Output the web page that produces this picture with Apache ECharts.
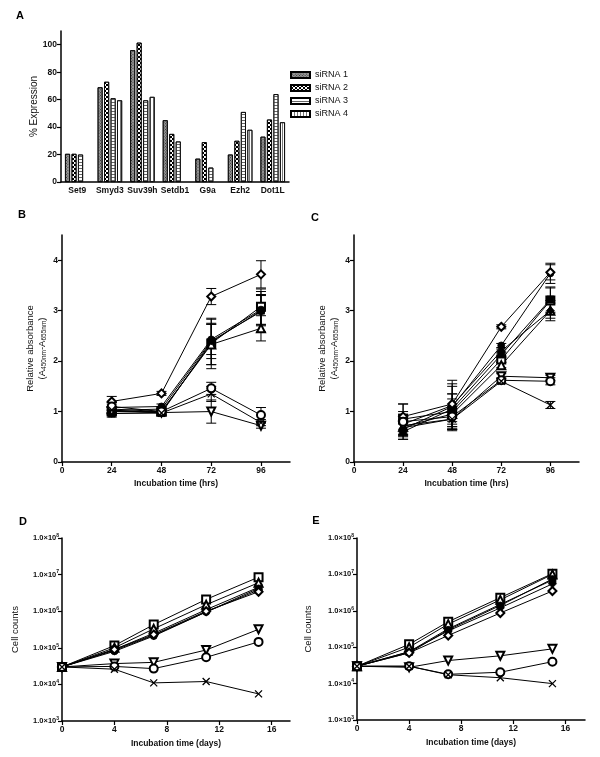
<!DOCTYPE html>
<html>
<head>
<meta charset="utf-8">
<script src="https://cdn.jsdelivr.net/npm/echarts@6/dist/echarts.min.js"></script>
<style>
  html, body { margin: 0; padding: 0; background: #fff; }
  #chart { width: 600px; height: 757px; }
</style>
</head>
<body>
<div id="chart"></div>
<script>
// panel A - % expression after knockdown
const genes = ['Set9', 'Smyd3', 'Suv39h', 'Setdb1', 'G9a', 'Ezh2', 'Dot1L'];
const sirna1 = [20.5, 69, 96, 45, 17, 20, 33];
const sirna2 = [20.5, 73, 101.5, 35, 29, 30, 45.5];
const sirna3 = [20, 61, 59.5, 29.5, 10.5, 51, 64];
const sirna4 = [null, 59.5, 62, null, null, 38, 43.5];
const pctTicks = [0, 20, 40, 60, 80, 100];

// panels B/C - absorbance
const hrs = [24, 48, 72, 96];
const hrsTicks = [0, 24, 48, 72, 96];
const absTicks = [0, 1, 2, 3, 4];

const bSq = [1.0, 1.0, 2.35, 3.08],      bSqErr = [0.08, 0.05, 0.5, 0.35];
const bSqF = [0.96, 0.97, 2.38, 3.0],    bSqFErr = [0.07, 0.05, 0.45, 0.3];
const bTri = [1.05, 1.0, 2.33, 2.65],    bTriErr = [0.1, 0.05, 0.4, 0.25];
const bDotF = [1.08, 1.1, 2.43, 3.02],   bDotFErr = [0.1, 0.05, 0.3, 0.3];
const bDiaF = [1.02, 1.05, 2.4, 2.98],   bDiaFErr = [0.08, 0.05, 0.35, 0.4];
const bDia = [1.2, 1.36, 3.28, 3.72],    bDiaErr = [0.1, 0.04, 0.16, 0.27];
const bTriDn = [1.0, 0.98, 1.0, 0.72],   bTriDnErr = [0.05, 0.04, 0.23, 0.05];
const bCirc = [1.1, 1.0, 1.46, 0.93],    bCircErr = [0.08, 0.04, 0.12, 0.15];
const bCross = [1.03, 0.97, 1.35, 0.78], bCrossErr = [0.05, 0.04, 0.15, 0.06];

const cSq = [0.85, 1.0, 2.03, 3.2],      cSqErr = [0.3, 0.35, 0.05, 0.25];
const cSqF = [0.6, 1.05, 2.13, 3.22],    cSqFErr = [0.15, 0.3, 0.05, 0.25];
const cTri = [0.7, 0.95, 1.92, 3.0],     cTriErr = [0.2, 0.3, 0.05, 0.15];
const cDotF = [0.65, 1.1, 2.31, 3.74],   cDotFErr = [0.2, 0.45, 0.04, 0.2];
const cDiaF = [0.75, 1.12, 2.2, 3.0],    cDiaFErr = [0.2, 0.5, 0.04, 0.2];
const cDia = [0.9, 1.15, 2.68, 3.76],    cDiaErr = [0.25, 0.35, 0.04, 0.15];
const cTriDn = [0.72, 0.85, 1.7, 1.67],  cTriDnErr = [0.2, 0.2, 0.05, 0.05];
const cCirc = [0.8, 0.9, 1.62, 1.6],     cCircErr = [0.2, 0.2, 0.05, 0.07];
const cCross = [0.68, 0.85, 1.6, 1.13],  cCrossErr = [0.15, 0.15, 0.05, 0.07];

// panels D/E - cell counts
const days = [0, 4, 7, 11, 15];
const dayTicks = [0, 4, 8, 12, 16];

const dSq = [3e4, 1.15e5, 4.3e5, 2.1e6, 8.5e6];
const dSqF = [3e4, 9e4, 2.5e5, 1.1e6, 4.5e6];
const dTri = [3e4, 1.0e5, 3.3e5, 1.5e6, 6e6];
const dDotF = [3e4, 8e4, 2.1e5, 9.5e5, 4.2e6];
const dDiaF = [3e4, 8.5e4, 2.2e5, 9.5e5, 3.8e6];
const dDia = [3e4, 9e4, 2.3e5, 1.0e6, 3.4e6];
const dTriDn = [3e4, 3.7e4, 4.0e4, 8.7e4, 3.2e5];
const dCirc = [3e4, 3.1e4, 2.7e4, 5.5e4, 1.45e5];
const dCross = [3e4, 2.6e4, 1.1e4, 1.2e4, 5.5e3];

const eSq = [3e4, 1.2e5, 5e5, 2.3e6, 1.05e7];
const eSqF = [3e4, 7.5e4, 3.2e5, 1.5e6, 7e6];
const eTri = [3e4, 1.0e5, 4.3e5, 2.0e6, 1.0e7];
const eDotF = [3e4, 7e4, 3e5, 1.4e6, 7.5e6];
const eDiaF = [3e4, 7.5e4, 2.8e5, 1.2e6, 5.5e6];
const eDia = [3e4, 7e4, 2.1e5, 8.7e5, 3.5e6];
const eTriDn = [3e4, 2.8e4, 4.3e4, 5.8e4, 9e4];
const eCirc = [3e4, 3e4, 1.8e4, 2.05e4, 4e4];
const eCross = [3e4, 3e4, 1.75e4, 1.45e4, 1.0e4];

// marker look for each treatment (same order in every panel)
const markers = [
  { symbol: 'emptyRect', size: 8 },
  { symbol: 'rect', size: 7 },
  { symbol: 'emptyTriangle', size: 8 },
  { symbol: 'circle', size: 7 },
  { symbol: 'diamond', size: 8 },
  { symbol: 'emptyDiamond', size: 8 },
  { symbol: 'emptyTriangle', size: 8, rotate: 180 },
  { symbol: 'emptyCircle', size: 8 },
  { symbol: 'path://M0,0L10,10M10,0L0,10', size: 7, bw: 1.3 }
];

const bSets = [[bSq, bSqErr], [bSqF, bSqFErr], [bTri, bTriErr], [bDotF, bDotFErr], [bDiaF, bDiaFErr],
  [bDia, bDiaErr], [bTriDn, bTriDnErr], [bCirc, bCircErr], [bCross, bCrossErr]];
const cSets = [[cSq, cSqErr], [cSqF, cSqFErr], [cTri, cTriErr], [cDotF, cDotFErr], [cDiaF, cDiaFErr],
  [cDia, cDiaErr], [cTriDn, cTriDnErr], [cCirc, cCircErr], [cCross, cCrossErr]];
const dSets = [dSq, dSqF, dTri, dDotF, dDiaF, dDia, dTriDn, dCirc, dCross];
const eSets = [eSq, eSqF, eTri, eDotF, eDiaF, eDia, eTriDn, eCirc, eCross];

const FONT = 'Liberation Sans, Arial, sans-serif';
const axisLine = { show: true, lineStyle: { color: '#000', width: 1.5 } };
const axisTick = (vals) => ({ show: true, length: 4, lineStyle: { color: '#000', width: 1.2 }, customValues: vals });
const tickLabel = (vals) => ({ color: '#111', fontSize: 8.5, fontWeight: 'bold', fontFamily: FONT, margin: 4, customValues: vals });

function lineSeries(idx, xs, ys, m) {
  return {
    type: 'line', xAxisIndex: idx, yAxisIndex: idx, z: 3,
    data: xs.map((x, i) => [x, ys[i]]),
    symbol: m.symbol, symbolSize: m.size, symbolRotate: m.rotate || 0,
    lineStyle: { color: '#000', width: 1 },
    itemStyle: { color: '#000', borderColor: '#000', borderWidth: m.bw || 0.8 },
    animation: false, silent: true
  };
}

function errSeries(idx, xs, ys, errs) {
  return {
    type: 'custom', xAxisIndex: idx, yAxisIndex: idx, z: 2, silent: true, animation: false,
    data: xs.map((x, i) => [x, ys[i], errs[i]]),
    encode: { x: 0, y: 1 },
    renderItem(params, api) {
      const x = api.value(0), v = api.value(1), e = api.value(2);
      const hi = api.coord([x, v + e]), lo = api.coord([x, v - e]);
      const w = 5;
      const st = { stroke: '#000', lineWidth: 1 };
      return {
        type: 'group', children: [
          { type: 'line', shape: { x1: hi[0], y1: hi[1], x2: lo[0], y2: lo[1] }, style: st },
          { type: 'line', shape: { x1: hi[0] - w, y1: hi[1], x2: hi[0] + w, y2: hi[1] }, style: st },
          { type: 'line', shape: { x1: lo[0] - w, y1: lo[1], x2: lo[0] + w, y2: lo[1] }, style: st }
        ]
      };
    }
  };
}

const series = [];

// bars
const barDecals = [
  { color: '#999', decal: { symbol: 'rect', color: '#333', symbolSize: 1, dashArrayX: [1, 1], dashArrayY: [1, 1], rotation: Math.PI / 4 } },
  { color: '#fff', decal: { symbol: 'rect', color: '#000', symbolSize: 1, dashArrayX: [[2, 2], [0, 2, 2, 0]], dashArrayY: [2, 0] } },
  { color: '#fff', decal: { symbol: 'rect', color: '#666', symbolSize: 1, dashArrayX: [1, 0], dashArrayY: [1, 1.5] } },
  { color: '#fff', decal: { symbol: 'rect', color: '#777', symbolSize: 1, dashArrayX: [1, 2], dashArrayY: [1, 0] } }
];
[sirna1, sirna2, sirna3, sirna4].forEach((vals, k) => {
  series.push({
    type: 'bar', name: 'siRNA ' + (k + 1), xAxisIndex: 0, yAxisIndex: 0,
    data: vals, barWidth: 5, barGap: '30%', animation: false,
    itemStyle: { color: barDecals[k].color, decal: barDecals[k].decal, borderColor: '#000', borderWidth: 0.8 }
  });
});

bSets.forEach((s, k) => { series.push(errSeries(1, hrs, s[0], s[1])); series.push(lineSeries(1, hrs, s[0], markers[k])); });
cSets.forEach((s, k) => { series.push(errSeries(2, hrs, s[0], s[1])); series.push(lineSeries(2, hrs, s[0], markers[k])); });
dSets.forEach((s, k) => series.push(lineSeries(3, days, s, markers[k])));
eSets.forEach((s, k) => series.push(lineSeries(4, days, s, markers[k])));

const absName = 'Relative absorbance\n(A{sub|450nm}-A{sub|655nm})';
const absNameStyle = { color: '#111', fontSize: 9.5, fontFamily: FONT, lineHeight: 12,
  rich: { sub: { fontSize: 6.5, padding: [4, 0, 0, 0], fontFamily: FONT, color: '#111' } } };
const xNameStyle = { color: '#111', fontSize: 8.5, fontWeight: 'bold', fontFamily: FONT };

const logLabel = {
  color: '#111', fontSize: 7.5, fontWeight: 'bold', fontFamily: FONT, margin: 3,
  formatter: v => '1.0×10{s|' + Math.round(Math.log10(v)) + '}',
  rich: { s: { fontSize: 5, padding: [0, 0, 5, 0], fontWeight: 'bold', color: '#111' } }
};

const option = {
  backgroundColor: '#fff',
  textStyle: { fontFamily: FONT },
  graphic: [
    ['A', 20, 16], ['B', 22, 215], ['C', 315, 218], ['D', 23, 522], ['E', 316, 521]
  ].map(t => ({ type: 'text', x: t[1], y: t[2], style: { text: t[0], fontSize: 11, fontWeight: 'bold',
    fontFamily: FONT, fill: '#000', align: 'center', verticalAlign: 'middle' } })),
  legend: {
    data: ['siRNA 1', 'siRNA 2', 'siRNA 3', 'siRNA 4'], orient: 'vertical', left: 290, top: 70,
    itemWidth: 19, itemHeight: 6, itemGap: 3, padding: 0, selectedMode: false, icon: 'rect',
    textStyle: { fontSize: 9, color: '#111', fontFamily: FONT, lineHeight: 10 }
  },
  grid: [
    { left: 61, top: 31, width: 228, height: 151, outerBoundsMode: 'none' },
    { left: 62, top: 235, width: 228, height: 227, outerBoundsMode: 'none' },
    { left: 354, top: 235, width: 225, height: 227, outerBoundsMode: 'none' },
    { left: 62, top: 538, width: 228, height: 183, outerBoundsMode: 'none' },
    { left: 357, top: 538, width: 228, height: 182, outerBoundsMode: 'none' }
  ],
  xAxis: [
    { type: 'category', gridIndex: 0, data: genes, axisLine, axisTick: { show: false },
      axisLabel: { color: '#111', fontSize: 8.5, fontWeight: 'bold', fontFamily: FONT, margin: 4, interval: 0 } },
    { type: 'value', gridIndex: 1, min: 0, max: 110, splitLine: { show: false }, axisLine,
      axisTick: axisTick(hrsTicks), axisLabel: tickLabel(hrsTicks),
      name: 'Incubation time (hrs)', nameLocation: 'middle', nameGap: 17, nameTextStyle: xNameStyle },
    { type: 'value', gridIndex: 2, min: 0, max: 110, splitLine: { show: false }, axisLine,
      axisTick: axisTick(hrsTicks), axisLabel: tickLabel(hrsTicks),
      name: 'Incubation time (hrs)', nameLocation: 'middle', nameGap: 17, nameTextStyle: xNameStyle },
    { type: 'value', gridIndex: 3, min: 0, max: 17.4, splitLine: { show: false }, axisLine,
      axisTick: axisTick(dayTicks), axisLabel: tickLabel(dayTicks),
      name: 'Incubation time (days)', nameLocation: 'middle', nameGap: 18, nameTextStyle: xNameStyle },
    { type: 'value', gridIndex: 4, min: 0, max: 17.5, splitLine: { show: false }, axisLine,
      axisTick: axisTick(dayTicks), axisLabel: tickLabel(dayTicks),
      name: 'Incubation time (days)', nameLocation: 'middle', nameGap: 18, nameTextStyle: xNameStyle }
  ],
  yAxis: [
    { type: 'value', gridIndex: 0, min: 0, max: 110, splitLine: { show: false }, axisLine,
      axisTick: axisTick(pctTicks), axisLabel: tickLabel(pctTicks),
      name: '% Expression', nameLocation: 'middle', nameGap: 20,
      nameTextStyle: { color: '#111', fontSize: 10, fontFamily: FONT } },
    { type: 'value', gridIndex: 1, min: 0, max: 4.5, splitLine: { show: false }, axisLine,
      axisTick: axisTick(absTicks), axisLabel: tickLabel(absTicks),
      name: absName, nameLocation: 'middle', nameGap: 14, nameTextStyle: absNameStyle },
    { type: 'value', gridIndex: 2, min: 0, max: 4.5, splitLine: { show: false }, axisLine,
      axisTick: axisTick(absTicks), axisLabel: tickLabel(absTicks),
      name: absName, nameLocation: 'middle', nameGap: 14, nameTextStyle: absNameStyle },
    { type: 'log', logBase: 10, gridIndex: 3, min: 1e3, max: 1e8, splitLine: { show: false }, axisLine,
      axisTick: { show: true, length: 4, lineStyle: { color: '#000', width: 1.2 } }, minorTick: { show: false },
      axisLabel: logLabel,
      name: 'Cell counts', nameLocation: 'middle', nameGap: 42,
      nameTextStyle: { color: '#111', fontSize: 9.5, fontFamily: FONT } },
    { type: 'log', logBase: 10, gridIndex: 4, min: 1e3, max: 1e8, splitLine: { show: false }, axisLine,
      axisTick: { show: true, length: 4, lineStyle: { color: '#000', width: 1.2 } }, minorTick: { show: false },
      axisLabel: logLabel,
      name: 'Cell counts', nameLocation: 'middle', nameGap: 44,
      nameTextStyle: { color: '#111', fontSize: 9.5, fontFamily: FONT } }
  ],
  series
};

const myChart = echarts.init(document.getElementById('chart'), null, { renderer: 'canvas' });
myChart.setOption(option);
</script>
</body>
</html>
